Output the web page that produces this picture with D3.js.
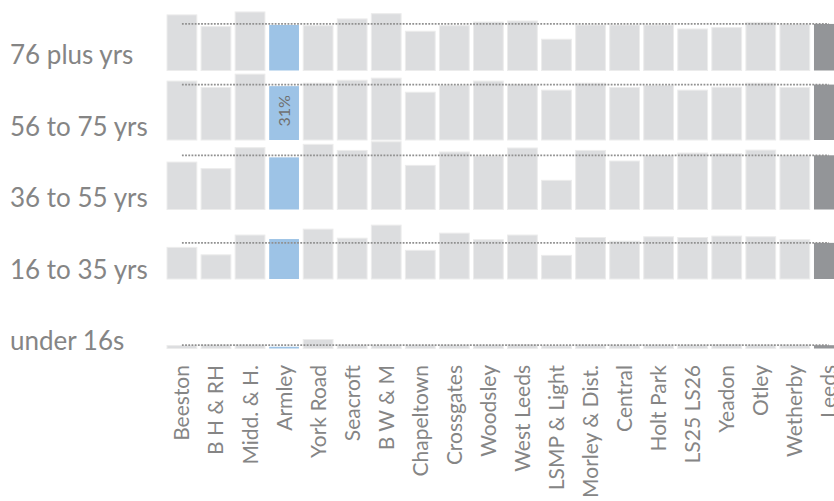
<!DOCTYPE html>
<html>
<head>
<meta charset="utf-8">
<script src="https://cdn.jsdelivr.net/npm/d3@7"></script>
<style>
  html, body { margin: 0; padding: 0; background: #fff; overflow: hidden; }
  svg { display: block; }
  text { font-family: Lato, "Open Sans", sans-serif; fill: #858585; }
</style>
</head>
<body>
<svg id="chart" width="834" height="501"></svg>
<script>
// Areas across the bottom; "Leeds" is the city-wide total.
const areas = ["Beeston", "B H & RH", "Midd. & H.", "Armley", "York Road", "Seacroft",
  "B W & M", "Chapeltown", "Crossgates", "Woodsley", "West Leeds", "LSMP & Light",
  "Morley & Dist.", "Central", "Holt Park", "LS25 LS26", "Yeadon", "Otley", "Wetherby", "Leeds"];

const ageGroups = ["76 plus yrs", "56 to 75 yrs", "36 to 55 yrs", "16 to 35 yrs", "under 16s"];

// Share (%) of each area's total falling in each age band.
const age76plus = [32.0, 25.3, 33.7, 26.2, 25.8, 29.7, 32.7, 22.6, 25.8, 27.9,
  28.5, 18.0, 26.2, 26.2, 26.2, 23.9, 24.7, 27.7, 26.6, 26.8];
const age56to75 = [33.9, 30.2, 37.9, 31.0, 32.7, 34.4, 35.6, 27.5, 31.6, 33.9,
  32.1, 28.7, 32.7, 30.2, 31.4, 28.7, 30.4, 32.7, 30.2, 31.9];
const age36to55 = [27.3, 23.5, 35.6, 30.0, 37.5, 34.0, 39.0, 25.4, 33.1, 30.8,
  35.4, 16.8, 34.0, 27.9, 31.0, 32.5, 32.1, 34.2, 31.0, 31.2];
const age16to35 = [18.2, 13.9, 25.3, 23.0, 28.7, 23.5, 31.0, 16.5, 26.4, 22.6,
  25.3, 13.6, 23.9, 21.8, 24.3, 23.9, 24.7, 24.3, 22.6, 20.8];
const under16 = [1.7, 2.0, 2.0, 1.0, 5.2, 2.0, 2.0, 2.0, 2.0, 2.0,
  2.2, 1.6, 2.0, 2.0, 2.0, 2.0, 2.2, 2.0, 2.0, 1.9];

const seriesByAge = [age76plus, age56to75, age36to55, age16to35, under16];

const highlightArea = "Armley";
const totalArea = "Leeds";
const labelledAge = "56 to 75 yrs";

const rows = ageGroups.map((age, i) => ({
  age,
  cells: areas.map((area, j) => ({ area, age, value: seriesByAge[i][j] })),
  total: seriesByAge[i][areas.indexOf(totalArea)]
}));

const svg = d3.select("#chart");

const x = d3.scaleBand()
  .domain(areas)
  .range([164.9, 164.9 + 20 * 34.05])
  .paddingInner(0.125)
  .paddingOuter(0.0625);

const row = d3.scaleBand()
  .domain(ageGroups)
  .range([1, 1 + 5 * 69.5]);

const h = d3.scaleLinear().domain([0, 40]).range([0, row.bandwidth()]);

const labelY = d3.scalePoint().domain(ageGroups).range([64, 350]);

const fillFor = d => d.area === highlightArea ? "#9dc3e6"
  : d.area === totalArea ? "#939598" : "#dcdddf";

const panels = svg.selectAll("g.panel")
  .data(rows)
  .join("g")
  .attr("class", "panel")
  .attr("transform", d => `translate(0,${row(d.age) + row.bandwidth()})`);

// bars
panels.selectAll("rect")
  .data(d => d.cells)
  .join("rect")
  .attr("x", d => x(d.area))
  .attr("width", x.bandwidth())
  .attr("y", d => -h(d.value))
  .attr("height", d => h(d.value))
  .attr("fill", fillFor)
  .attr("stroke", d => (d.area === highlightArea || d.area === totalArea) ? "none" : "#ececec")
  .attr("stroke-width", 1);

// city-wide reference line
panels.append("line")
  .attr("x1", x(areas[0]) + x.bandwidth() / 2)
  .attr("x2", x(totalArea) + x.bandwidth() / 2)
  .attr("y1", d => -h(d.total))
  .attr("y2", d => -h(d.total))
  .attr("stroke", "#909090")
  .attr("stroke-width", 1.8)
  .attr("stroke-dasharray", "1.8,1.4");

// value label inside the highlighted bar
panels.filter(d => d.age === labelledAge)
  .selectAll("text.value")
  .data(d => d.cells.filter(c => c.area === highlightArea))
  .join("text")
  .attr("class", "value")
  .attr("transform", d => `translate(${x(d.area) + x.bandwidth() / 2 + 5.5},${-h(d.value) + 9}) rotate(-90)`)
  .attr("text-anchor", "end")
  .style("font-size", "16px")
  .style("fill", "#707070")
  .text(d => d3.format(".0f")(d.value) + "%");

// age-group labels
svg.selectAll("text.age")
  .data(ageGroups)
  .join("text")
  .attr("class", "age")
  .attr("x", 10)
  .attr("y", d => labelY(d))
  .style("font-size", "26px")
  .text(d => d);

// area labels
svg.selectAll("text.area")
  .data(areas)
  .join("text")
  .attr("class", "area")
  .attr("transform", d => `translate(${x(d) + x.bandwidth() / 2 + 7.5},365) rotate(-90)`)
  .attr("text-anchor", "end")
  .style("font-size", "21px")
  .text(d => d);
</script>
</body>
</html>
